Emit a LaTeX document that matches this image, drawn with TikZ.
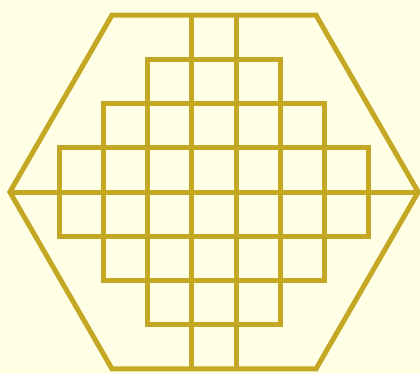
\documentclass[tikz,border=0pt]{standalone}
\usepackage{tikz}
\usetikzlibrary{calc}
\definecolor{hexgold}{RGB}{196,168,36}
\definecolor{paleyellow}{RGB}{255,255,230}
\tikzstyle{goldline} = [hexgold,line width=5pt,line join=miter]

\begin{document}
\begin{tikzpicture}[x=44.2pt,y=-44.2pt]

% Page and background
\useasboundingbox (-4.842,-4.344) rectangle (4.660,4.118);
\fill[paleyellow] (-4.842,-4.344) rectangle (4.660,4.118);

% Hexagon
\draw[goldline] (-4.619,0) -- (-2.309,-4) -- (2.309,-4) -- (4.619,0)
  -- (2.309,4) -- (-2.309,4) -- cycle;

% Middle line
\draw[goldline] (-4.619,0) -- (4.619,0);

% Stepped outline of the squares
\draw[goldline] (-1.5,-3) -- (1.5,-3) -- (1.5,-2) -- (2.5,-2) -- (2.5,-1)
  -- (3.5,-1) -- (3.5,1) -- (2.5,1) -- (2.5,2) -- (1.5,2) -- (1.5,3)
  -- (-1.5,3) -- (-1.5,2) -- (-2.5,2) -- (-2.5,1) -- (-3.5,1) -- (-3.5,-1)
  -- (-2.5,-1) -- (-2.5,-2) -- (-1.5,-2) -- cycle;

% Inner horizontal lines
\draw[goldline] (-1.5,-2) -- (1.5,-2);
\draw[goldline] (-2.5,-1) -- (2.5,-1);
\draw[goldline] (-2.5,1) -- (2.5,1);
\draw[goldline] (-1.5,2) -- (1.5,2);

% Inner vertical lines
\draw[goldline] (-0.5,-4) -- (-0.5,4);
\draw[goldline] (0.5,-4) -- (0.5,4);
\draw[goldline] (-1.5,-2) -- (-1.5,2);
\draw[goldline] (1.5,-2) -- (1.5,2);
\draw[goldline] (-2.5,-1) -- (-2.5,1);
\draw[goldline] (2.5,-1) -- (2.5,1);

\end{tikzpicture}
\end{document}
